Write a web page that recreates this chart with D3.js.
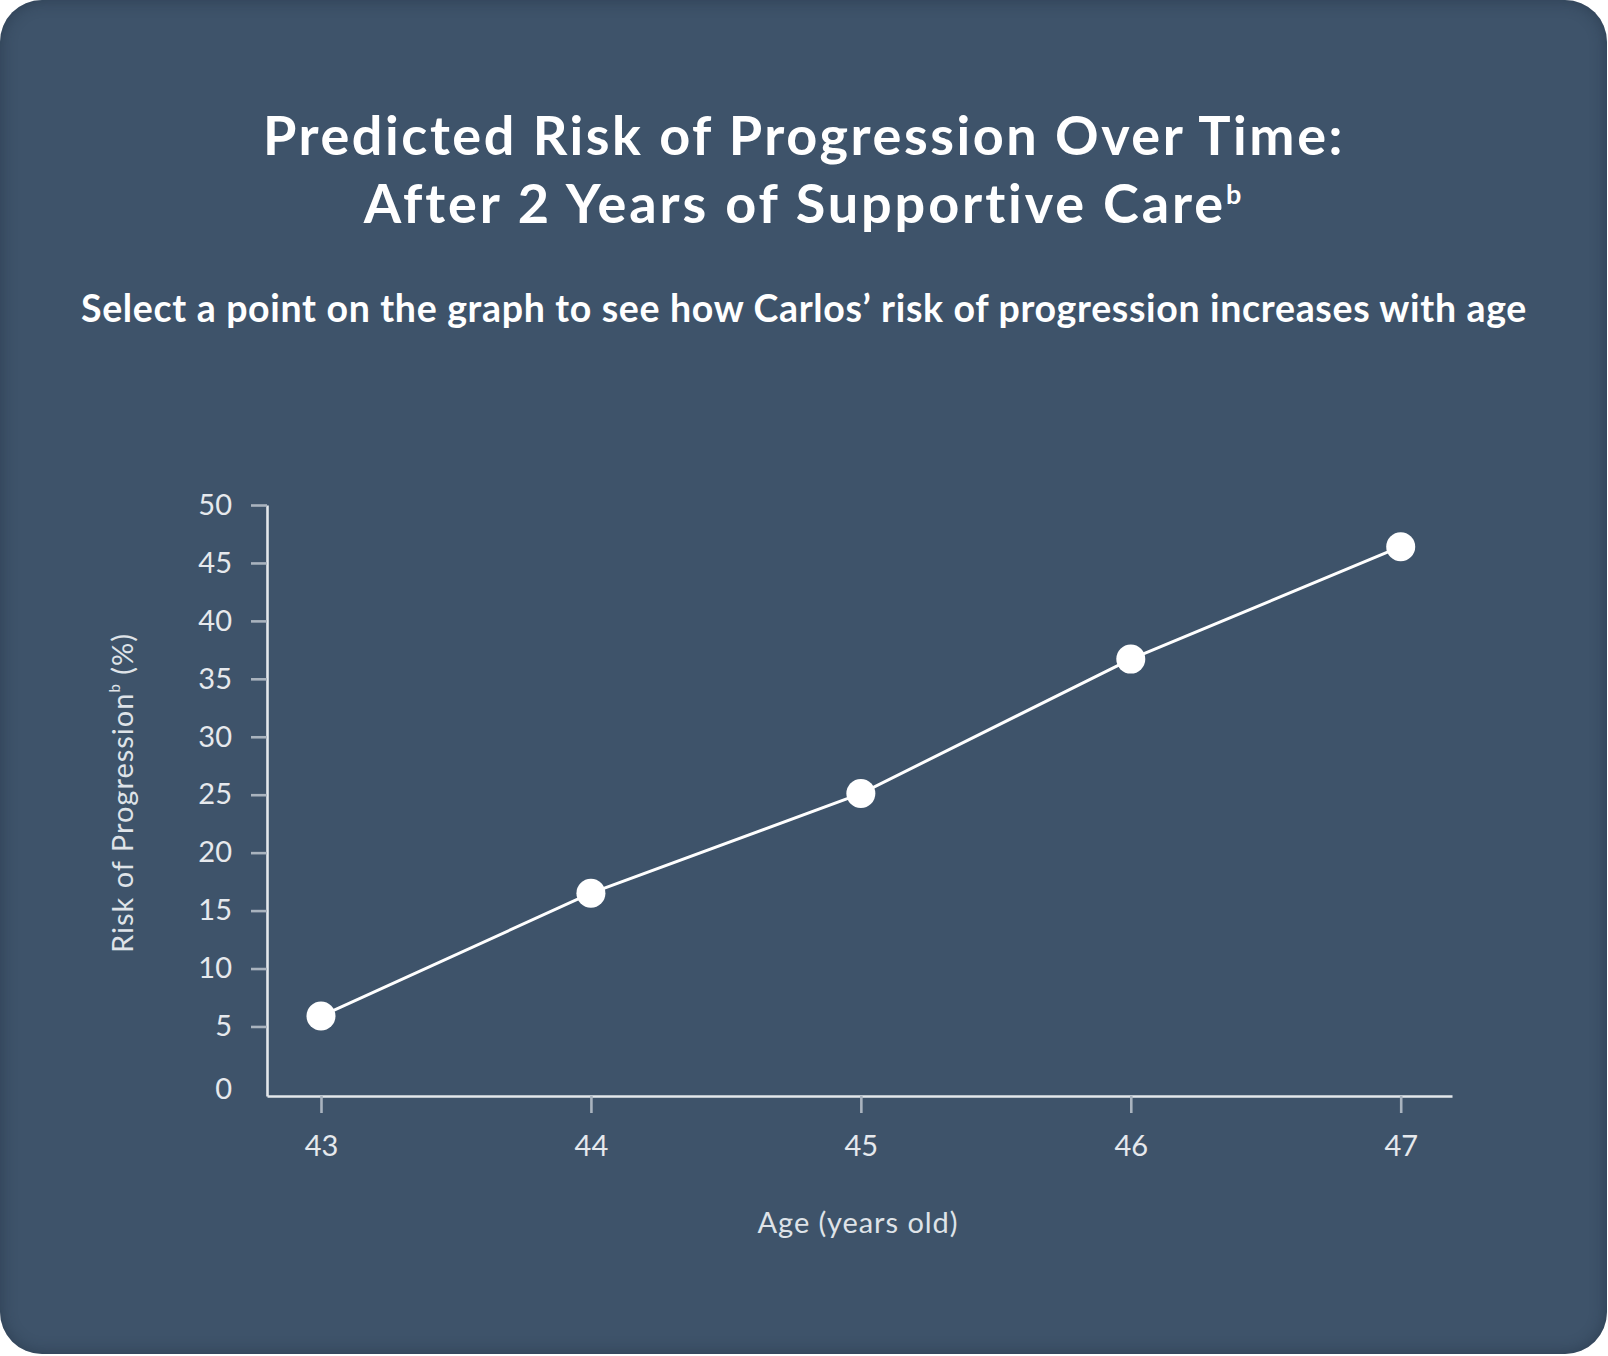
<!DOCTYPE html>
<html><head><meta charset="utf-8">
<script src="https://cdn.jsdelivr.net/npm/d3@7/dist/d3.min.js"></script>
<style>
body{margin:0;background:#fff;}
#card{position:absolute;left:0;top:0;width:1607px;height:1354px;border-radius:42px;background:#3e536a;box-shadow:inset 0 0 16px rgba(25,38,54,0.45);overflow:hidden}
svg{position:absolute;left:0;top:0}
</style></head><body><div id="card"></div>
<script>
// Data
const ages = [43, 44, 45, 46, 47];
const risk = [5.9, 16.5, 25.1, 36.7, 46.4];
const yTicks = [0, 5, 10, 15, 20, 25, 30, 35, 40, 45, 50];
const titleLine1 = "Predicted Risk of Progression Over Time:";
const titleLine2 = "After 2 Years of Supportive Care";
const subtitle = "Select a point on the graph to see how Carlos\u2019 risk of progression increases with age";
const xTitle = "Age (years old)";
const yTitle = "Risk of Progression";

const FONT = "Lato, 'Open Sans', sans-serif";
const svg = d3.select("body").append("svg").attr("width", 1608).attr("height", 1356)
  .style("font-family", FONT);

function fit(sel, target) {
  const node = sel.node();
  const w = node.getComputedTextLength();
  const n = node.textContent.length;
  sel.attr("letter-spacing", ((target - w) / n).toFixed(3));
}

// Titles
const t1 = svg.append("text").attr("x", 804).attr("y", 155).attr("text-anchor", "middle")
  .attr("font-size", 54).attr("font-weight", 700).attr("fill", "#ffffff").text(titleLine1);
fit(t1, 1082);
const t2 = svg.append("text").attr("x", 804).attr("y", 223).attr("text-anchor", "middle")
  .attr("font-size", 54).attr("font-weight", 700).attr("fill", "#ffffff");
t2.append("tspan").text(titleLine2);
t2.append("tspan").attr("font-size", 27).attr("dy", -19).text("b");
fit(t2, 880);
const st = svg.append("text").attr("x", 804).attr("y", 322).attr("text-anchor", "middle")
  .attr("font-size", 37.5).attr("font-weight", 700).attr("fill", "#ffffff").text(subtitle);
fit(st, 1446);

// Scales
const x = d3.scaleLinear().domain([42.8, 47.19]).range([267, 1452]);
const y = d3.scaleLinear().domain([-1, 50]).range([1096, 505]);

const axisColor = "#e3e7eb";
const tickColor = "#a9b3be";
const labelColor = "#e6e9ed";

// X axis
const gx = svg.append("g").attr("transform", "translate(0,1096)")
  .call(d3.axisBottom(x).tickValues(ages).tickFormat(d3.format("d")).tickSize(17).tickPadding(22).tickSizeOuter(0));
gx.select(".domain").attr("stroke", axisColor).attr("stroke-width", 2.6);
gx.selectAll(".tick line").attr("stroke", tickColor).attr("stroke-width", 2.6);
gx.selectAll(".tick text").attr("fill", labelColor).attr("font-size", 29).attr("font-family", FONT);

// Y axis
const gy = svg.append("g").attr("transform", "translate(267,0)")
  .call(d3.axisLeft(y).tickValues(yTicks).tickSize(16).tickPadding(19).tickSizeOuter(0));
gy.select(".domain").attr("stroke", axisColor).attr("stroke-width", 2.6);
gy.selectAll(".tick line").attr("stroke", tickColor).attr("stroke-width", 2.6)
  .filter(d => d === 0).remove();
gy.selectAll(".tick text").attr("fill", labelColor).attr("font-size", 29).attr("font-family", FONT)
  .filter(d => d === 0).attr("y", 5);

// Axis titles
const xt = svg.append("text").attr("x", 858).attr("y", 1233).attr("text-anchor", "middle")
  .attr("font-size", 29).attr("fill", "#dfe3e8").text(xTitle);
fit(xt, 201);
const yt = svg.append("text").attr("transform", "translate(133,793) rotate(-90)")
  .attr("text-anchor", "middle").attr("font-size", 29).attr("fill", "#dfe3e8");
yt.append("tspan").text(yTitle);
yt.append("tspan").attr("font-size", 15).attr("dy", -13).text("b");
yt.append("tspan").attr("dy", 13).text(" (%)");
fit(yt, 320);

// Line and points
const pts = ages.map((a, i) => [a, risk[i]]);
svg.append("path").datum(pts)
  .attr("d", d3.line().x(d => x(d[0])).y(d => y(d[1])))
  .attr("fill", "none").attr("stroke", "#ffffff").attr("stroke-width", 3);
svg.selectAll("circle.pt").data(pts).enter().append("circle").attr("class", "pt")
  .attr("cx", d => x(d[0])).attr("cy", d => y(d[1])).attr("r", 14.5)
  .attr("fill", "#ffffff").style("cursor", "pointer");
</script>
</body></html>
